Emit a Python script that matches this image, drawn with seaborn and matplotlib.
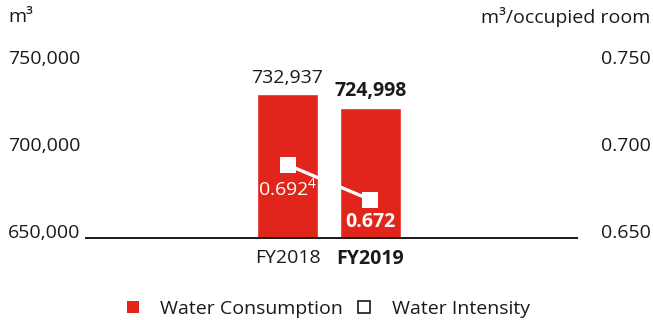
import matplotlib
matplotlib.use("Agg")
import matplotlib.pyplot as plt
from matplotlib.lines import Line2D
import seaborn as sns
import pandas as pd

years = ["FY2018", "FY2019"]
consumption = [732937, 724998]
intensity = [0.692, 0.672]
consumption_labels = ["732,937", "724,998"]
intensity_labels = ["0.692$^{4}$", "0.672"]
left_ticks = [650000, 700000, 750000]
left_tick_labels = ["650,000", "700,000", "750,000"]
right_ticks = [0.650, 0.700, 0.750]
right_tick_labels = ["0.650", "0.700", "0.750"]

RED = "#E1251B"
TXT = "#1a1a1a"
FS = 14

sns.set_theme(style="white")
plt.rcParams["font.family"] = ["Open Sans", "DejaVu Sans"]
plt.rcParams["mathtext.fontset"] = "custom"
plt.rcParams["mathtext.rm"] = "Open Sans"
plt.rcParams["mathtext.default"] = "rm"

df = pd.DataFrame({"year": years, "consumption": consumption, "intensity": intensity})

fig = plt.figure(figsize=(6.53, 3.2), dpi=100)
ax = fig.add_axes([86 / 653, 82 / 320, 491 / 653, 174 / 320])

sns.barplot(data=df, x="year", y="consumption", color=RED, width=0.735,
            saturation=1, ax=ax, zorder=2)
ax.set_ylim(650000, 750000)
ax.set_xlim(-2.43, 3.49)
ax.set_xlabel("")
ax.set_ylabel("")

for s in ["top", "left", "right"]:
    ax.spines[s].set_visible(False)
ax.spines["bottom"].set_color(TXT)
ax.spines["bottom"].set_linewidth(1.4)

ax.set_yticks(left_ticks)
ax.set_yticklabels(left_tick_labels, fontsize=FS, color=TXT, ha="left", va="baseline")
ax.tick_params(axis="y", length=0, pad=56)
ax.tick_params(axis="x", length=0, pad=8)
ax.set_xticks(range(len(years)))
ax.set_xticklabels(years, fontsize=FS, color=TXT)
ax.get_xticklabels()[1].set_fontweight("bold")

for i, (v, lab) in enumerate(zip(consumption, consumption_labels)):
    ax.annotate(lab, (i, v), xytext=(0, 5), textcoords="offset points",
                ha="center", va="bottom", fontsize=FS, color=TXT,
                fontweight="bold" if i == 1 else "normal")

ax2 = ax.twinx()
ax2.set_ylim(0.650, 0.750)
sns.lineplot(data=df, x="year", y="intensity", color="white", linewidth=2.4,
             marker="s", markersize=12, markeredgewidth=0, ax=ax2, zorder=3)
ax2.set_xlim(-2.43, 3.49)
ax2.set_ylabel("")
for s in ["top", "left", "right", "bottom"]:
    ax2.spines[s].set_visible(False)
ax2.set_yticks(right_ticks)
ax2.set_yticklabels(right_tick_labels, fontsize=FS, color=TXT, ha="right", va="baseline")
ax2.tick_params(axis="y", length=0, pad=53)

for i, (v, lab) in enumerate(zip(intensity, intensity_labels)):
    ax2.annotate(lab, (i, v), xytext=(0, -9), textcoords="offset points",
                 ha="center", va="top", fontsize=FS, color="white",
                 fontweight="bold" if i == 1 else "normal")

fig.text(8 / 653, 1 - 17 / 320, "m\u00b3", fontsize=FS, color=TXT, ha="left", va="center")
fig.text(650 / 653, 1 - 17 / 320, "m\u00b3/occupied room", fontsize=FS, color=TXT,
         ha="right", va="center")

handles = [
    Line2D([], [], linestyle="none", marker="s", markersize=9, color=RED,
           markeredgewidth=0),
    Line2D([], [], linestyle="none", marker="s", markersize=9,
           markerfacecolor="white", markeredgecolor=TXT, markeredgewidth=1.2),
]
fig.legend(handles, ["Water Consumption", "Water Intensity"], loc="center",
           bbox_to_anchor=(0.5, 1 - 309 / 320), ncol=2, frameon=False,
           fontsize=FS, labelcolor=TXT, handletextpad=0.9, columnspacing=0.6,
           handlelength=1.0, borderpad=0.1)

fig.savefig("out.png", dpi=100)
